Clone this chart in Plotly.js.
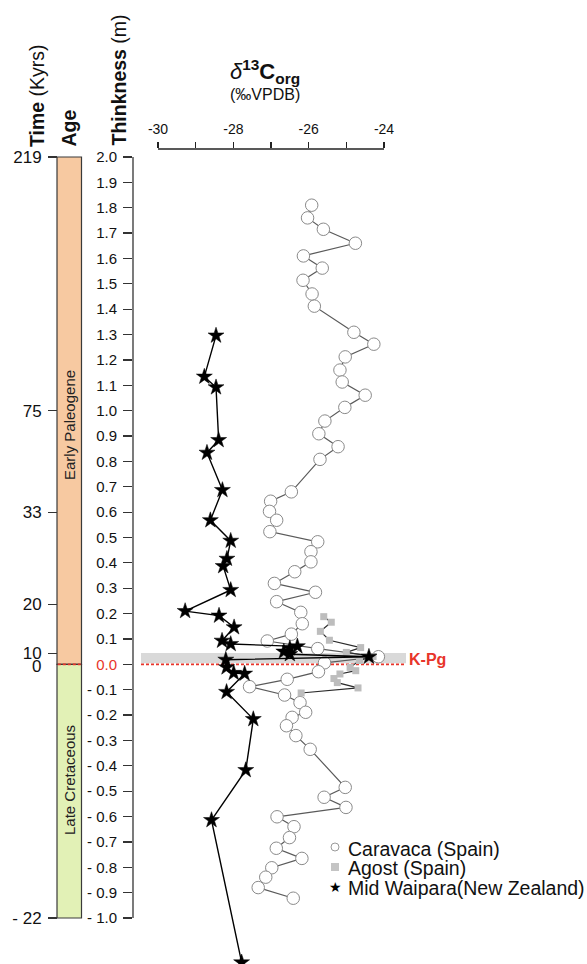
<!DOCTYPE html>
<html>
<head>
<meta charset="utf-8">
<script src="https://cdn.plot.ly/plotly-3.0.1.min.js"></script>
<style>html,body{margin:0;padding:0;background:#fff;}#chart{width:587px;height:964px;}</style>
</head>
<body>
<div id="chart"></div>
<script>
// ---- Data ----
const caravacaDepth = [1.81, 1.76, 1.715, 1.66, 1.61, 1.562, 1.514, 1.46, 1.412, 1.309, 1.262, 1.212, 1.16, 1.113, 1.061, 1.013, 0.959, 0.909, 0.858, 0.808, 0.68, 0.643, 0.603, 0.568, 0.523, 0.483, 0.444, 0.404, 0.365, 0.319, 0.284, 0.247, 0.205, 0.16, 0.119, 0.092, 0.062, 0.03, 0.006, -0.029, -0.059, -0.088, -0.121, -0.151, -0.189, -0.209, -0.242, -0.281, -0.335, -0.485, -0.524, -0.564, -0.601, -0.64, -0.683, -0.725, -0.765, -0.802, -0.839, -0.88, -0.922];
const caravacaD13C = [-25.92, -26.03, -25.61, -24.76, -26.14, -25.64, -26.15, -25.91, -25.85, -24.8, -24.27, -25.03, -25.17, -25.11, -24.5, -25.04, -25.57, -25.73, -25.22, -25.7, -26.46, -27.01, -27.04, -26.85, -27.03, -25.76, -25.94, -25.94, -26.37, -26.91, -25.82, -26.85, -26.21, -26.17, -26.46, -27.1, -25.76, -24.15, -25.58, -25.74, -26.57, -27.57, -26.64, -26.23, -26.08, -26.44, -26.59, -26.34, -25.96, -25.03, -25.59, -25.01, -26.84, -26.39, -26.51, -26.86, -26.18, -26.98, -27.14, -27.34, -26.41];

const agostDepth = [0.188, 0.166, 0.13, 0.095, 0.066, 0.047, 0.031, 0.015, -0.012, -0.025, -0.038, -0.056, -0.072, -0.093, -0.113];
const agostD13C = [-25.6, -25.4, -25.69, -25.45, -24.62, -25.0, -24.29, -24.65, -24.9, -24.75, -25.17, -25.33, -25.24, -24.69, -26.2];

const waiparaDepth = [1.296, 1.134, 1.092, 0.884, 0.834, 0.687, 0.568, 0.487, 0.416, 0.387, 0.293, 0.21, 0.192, 0.146, 0.093, 0.08, 0.071, 0.063, 0.05, 0.04, 0.03, 0.018, -0.012, -0.034, -0.037, -0.109, -0.216, -0.417, -0.614, -1.175];
const waiparaD13C = [-28.46, -28.77, -28.46, -28.39, -28.7, -28.29, -28.61, -28.07, -28.17, -28.27, -28.07, -29.28, -28.38, -27.98, -28.3, -28.07, -26.3, -26.5, -26.66, -26.5, -24.4, -28.2, -28.18, -27.99, -27.7, -28.18, -27.47, -27.67, -28.58, -27.78];

const seriesNames = ["Caravaca (Spain)", "Agost (Spain)", "Mid Waipara(New Zealand)"];

const d13cTickVals = [-30, -29, -28, -27, -26, -25, -24];
const d13cTickText = ["-30", "", "-28", "", "-26", "", "-24"];

const thickTickVals = [2.0, 1.9, 1.8, 1.7, 1.6, 1.5, 1.4, 1.3, 1.2, 1.1, 1.0, 0.9, 0.8, 0.7, 0.6, 0.5, 0.4, 0.3, 0.2, 0.1, 0.0, -0.1, -0.2, -0.3, -0.4, -0.5, -0.6, -0.7, -0.8, -0.9, -1.0];
const thickTickText = ["2.0", "1.9", "1.8", "1.7", "1.6", "1.5", "1.4", "1.3", "1.2", "1.1", "1.0", "0.9", "0.8", "0.7", "0.6", "0.5", "0.4", "0.3", "0.2", "0.1", "<span style='color:#e8352a'>0.0</span>", "- 0.1", "- 0.2", "- 0.3", "- 0.4", "- 0.5", "- 0.6", "- 0.7", "- 0.8", "- 0.9", "- 1.0"];

const timeTickVals = [2.0, 1.0, 0.6, 0.237, 0.044, -1.0];
const timeTickText = ["219", "75", "33", "20", "10", "- 22"];

const ageNames = ["Early Paleogene", "Late Cretaceous"];
const ageTop = [2.0, 0.0];
const ageBottom = [0.0, -1.0];
const kpgBand = [0.004, 0.045];

// ---- Layout helpers ----
const W = 587, H = 964;
const PX = p => p / W;
const PY = p => 1 - p / H;
const FONT = "Liberation Sans, Arial, Helvetica, sans-serif";
const RED = "#e8352a";

const traces = [
  {
    x: caravacaD13C, y: caravacaDepth, name: seriesNames[0],
    type: "scatter", mode: "lines+markers",
    line: {color: "#5a5a5a", width: 1.2},
    marker: {symbol: "circle", size: 12.5, color: "#ffffff", line: {color: "#8a8a8a", width: 1}},
    showlegend: false, cliponaxis: false
  },
  {
    x: agostD13C, y: agostDepth, name: seriesNames[1],
    type: "scatter", mode: "lines+markers",
    line: {color: "#2a2a2a", width: 1.2},
    marker: {symbol: "square", size: 7, color: "#bdbdbd"},
    showlegend: false, cliponaxis: false
  },
  {
    x: waiparaD13C, y: waiparaDepth, name: seriesNames[2],
    type: "scatter", mode: "lines+markers",
    line: {color: "#000000", width: 1.4},
    marker: {symbol: "star", size: 12, color: "#000000", line: {color: "#000", width: 0.5}},
    showlegend: false, cliponaxis: false
  }
];

const yRange = [-1.1813, 2.0315];

const shapes = [
  // K-Pg grey band
  {type: "rect", xref: "paper", yref: "y", x0: PX(141), x1: PX(406), y0: kpgBand[0], y1: kpgBand[1],
   fillcolor: "#d9d9d9", line: {width: 0}, layer: "below"},
  // K-Pg red dashed line
  {type: "line", xref: "paper", yref: "y", x0: PX(141), x1: PX(406), y0: 0, y1: 0,
   line: {color: RED, width: 1.6, dash: "3px,2px"}, layer: "below"},
  // Age column
  {type: "rect", xref: "paper", yref: "y", x0: PX(57), x1: PX(81.5), y0: ageBottom[0], y1: ageTop[0],
   fillcolor: "#f7c9a1", line: {color: "#3a3a3a", width: 1.2}},
  {type: "rect", xref: "paper", yref: "y", x0: PX(57), x1: PX(81.5), y0: ageBottom[1], y1: ageTop[1],
   fillcolor: "#e2f1b6", line: {color: "#3a3a3a", width: 1.2}},
  {type: "line", xref: "paper", yref: "y", x0: PX(57.8), x1: PX(80.7), y0: 0, y1: 0,
   line: {color: RED, width: 1.6, dash: "3px,2px"}},
  // Thickness axis line
  {type: "line", xref: "paper", yref: "y", x0: PX(133), x1: PX(133), y0: -1.0, y1: 2.0,
   line: {color: "#333", width: 1.3}},
  // d13C axis line
  {type: "line", xref: "x", yref: "paper", x0: -30, x1: -24, y0: PY(149), y1: PY(149),
   line: {color: "#222", width: 1.6}},
  // legend symbols
  {type: "circle", xref: "paper", yref: "paper", x0: PX(331), x1: PX(339), y0: PY(851), y1: PY(843),
   fillcolor: "#fff", line: {color: "#9a9a9a", width: 1}},
  {type: "rect", xref: "paper", yref: "paper", x0: PX(331), x1: PX(339), y0: PY(871), y1: PY(863),
   fillcolor: "#c4c4c4", line: {width: 0}}
];

const ann = (text, x, y, opts) => Object.assign({
  text: text, x: x, y: y, xref: "paper", yref: "paper", showarrow: false,
  xanchor: "center", yanchor: "middle",
  font: {family: FONT, size: 14, color: "#111"}
}, opts || {});

const annotations = [
  ann("<b>Time</b> (Kyrs)", PX(37), PY(95), {textangle: -90, font: {family: FONT, size: 19.5, color: "#111"}}),
  ann("<b>Age</b>", PX(68.5), PY(128), {textangle: -90, font: {family: FONT, size: 19.5, color: "#111"}}),
  ann("<b>Thinkness</b> (m)", PX(118.5), PY(80), {textangle: -90, font: {family: FONT, size: 19.5, color: "#111"}}),
  ann("<i>δ</i><b><sup>13</sup>C<sub>org</sub></b>", PX(265), PY(72), {font: {family: FONT, size: 22, color: "#111"}}),
  ann("(‰VPDB)", PX(265), PY(95), {font: {family: FONT, size: 16, color: "#111"}}),
  ann(ageNames[0], PX(69), PY(425), {textangle: -90, font: {family: FONT, size: 15, color: "#222"}}),
  ann(ageNames[1], PX(69), PY(780), {textangle: -90, font: {family: FONT, size: 15, color: "#222"}}),
  ann("0", PX(43), 0, {yref: "y", xanchor: "right", yshift: -2, font: {family: FONT, size: 17, color: "#111"}}),
  ann("<b>K-Pg</b>", PX(407), 0.02, {yref: "y", xanchor: "left", font: {family: FONT, size: 16, color: RED}}),
  ann(seriesNames[0], PX(346), PY(848.5), {xanchor: "left", font: {family: FONT, size: 19.5, color: "#111"}}),
  ann(seriesNames[1], PX(346), PY(867.5), {xanchor: "left", font: {family: FONT, size: 19.5, color: "#111"}}),
  ann(seriesNames[2], PX(346), PY(887.5), {xanchor: "left", font: {family: FONT, size: 19.5, color: "#111"}}),
  ann("★", PX(335), PY(887), {font: {family: "DejaVu Sans, sans-serif", size: 14, color: "#000"}})
];

const layout = {
  width: W, height: H,
  margin: {l: 0, r: 0, t: 0, b: 0, pad: 0},
  paper_bgcolor: "#fff", plot_bgcolor: "rgba(0,0,0,0)",
  font: {family: FONT, color: "#111"},
  showlegend: false,
  xaxis: {
    domain: [PX(133), 1], range: [-30.664, -18.611], side: "top", anchor: "y",
    showline: false, showgrid: false, zeroline: false,
    ticks: "outside", ticklen: 6, tickwidth: 1.5, tickcolor: "#222",
    tickmode: "array", tickvals: d13cTickVals, ticktext: d13cTickText,
    tickfont: {family: FONT, size: 14, color: "#111"}, ticklabelstandoff: 2
  },
  yaxis: {
    domain: [0, PY(149)], range: yRange, anchor: "x",
    showline: false, showgrid: false, zeroline: false,
    ticks: "outside", ticklen: 9, tickwidth: 1.2, tickcolor: "#333",
    tickmode: "array", tickvals: thickTickVals, ticktext: thickTickText,
    tickfont: {family: FONT, size: 15, color: "#111"}, ticklabelstandoff: 3
  },
  yaxis2: {
    overlaying: "y", anchor: "free", position: PX(57), side: "left", range: yRange,
    showline: false, showgrid: false, zeroline: false,
    ticks: "outside", ticklen: 9, tickwidth: 1.2, tickcolor: "#333",
    tickmode: "array", tickvals: timeTickVals, ticktext: timeTickText,
    tickfont: {family: FONT, size: 17, color: "#111"}, ticklabelstandoff: 3
  },
  shapes: shapes,
  annotations: annotations
};

// invisible helper trace so that the time axis (yaxis2) is drawn
traces.push({x: [-30], y: [0], yaxis: "y2", type: "scatter", mode: "markers",
  marker: {opacity: 0}, hoverinfo: "skip", showlegend: false});

Plotly.newPlot("chart", traces, layout, {staticPlot: true, displayModeBar: false});
</script>
</body>
</html>
